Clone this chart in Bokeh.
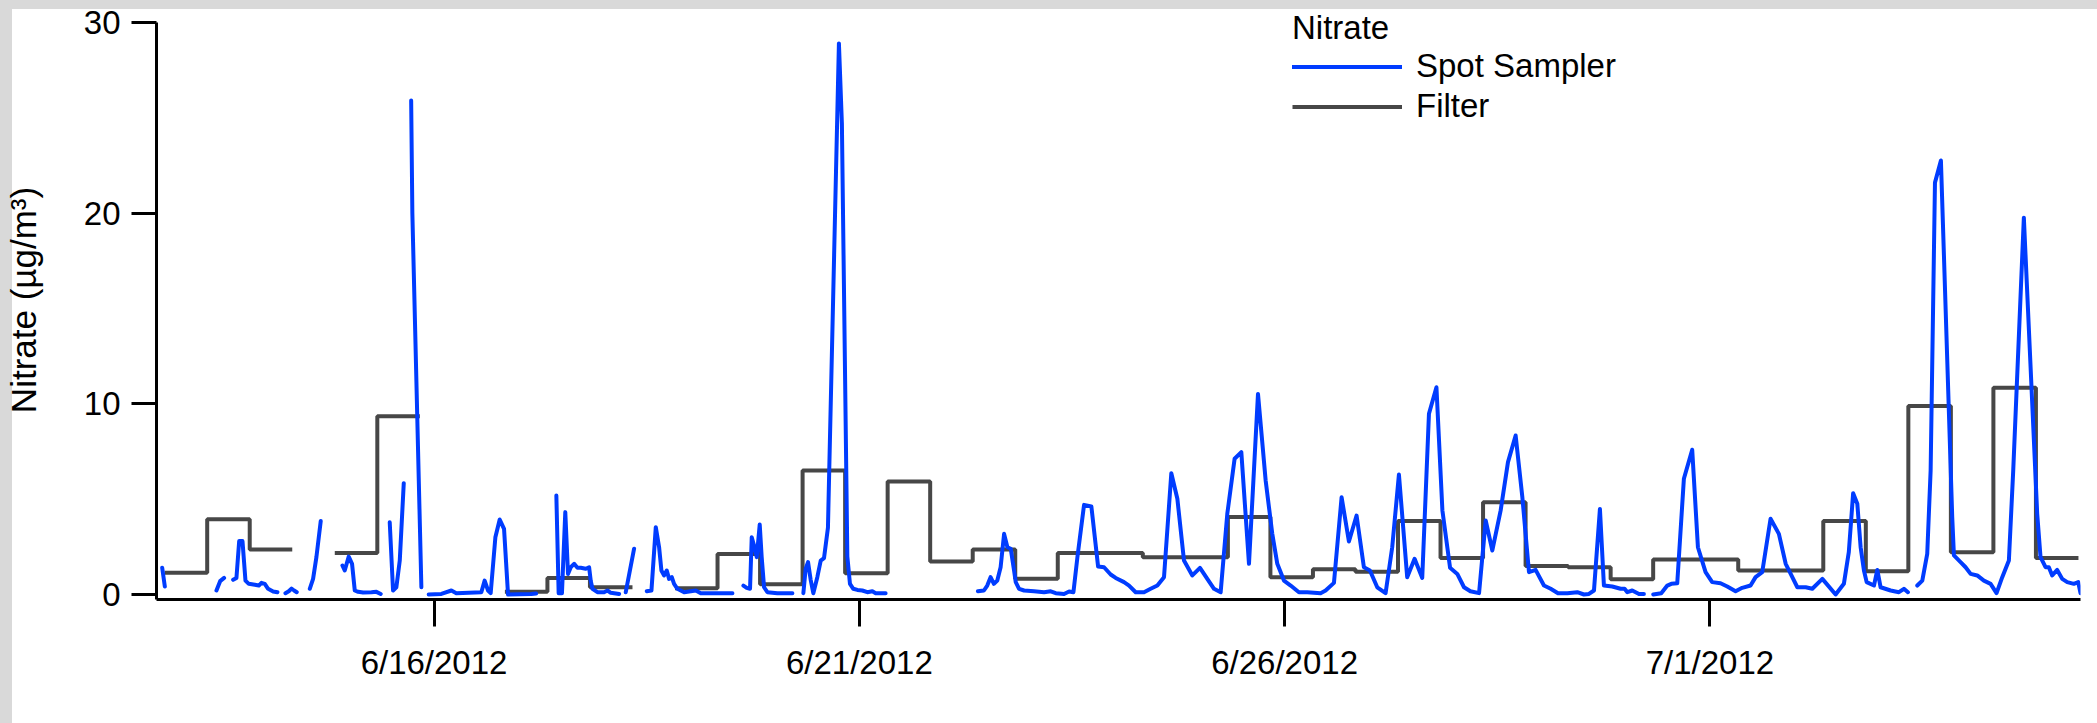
import math
from bokeh.plotting import figure
from bokeh.models import (ColumnDataSource, FixedTicker, Legend, LegendItem, Range1d)
from bokeh.embed import file_html
from bokeh.resources import INLINE

nan = float("nan")

# x values are days of June 2012 (31 = 7/1/2012); NaN marks gaps in the record
spot_day = [
    12.804, 12.835, nan,
    13.442, 13.485, 13.532, nan,
    13.638, 13.677, 13.709, 13.748, 13.783, 13.822, 13.893, 13.940, 13.971, 14.010, 14.049, 14.108, 14.159, nan,
    14.253, 14.292, 14.324, 14.355, 14.386, nan,
    14.539, 14.578, 14.617, 14.668, nan,
    14.923, 14.950, 14.997, 15.036, 15.068, 15.107, 15.166, 15.264, 15.322, 15.373, nan,
    15.479, 15.518, 15.557, 15.597, 15.644, nan,
    15.731, 15.745, 15.851, nan,
    15.937, 16.086, 16.204, 16.262, 16.556, 16.595, 16.635, 16.666, 16.721, 16.772, 16.823, 16.870, 17.144, 17.200, nan,
    17.438, 17.465, 17.504, 17.543, 17.575, 17.608, 17.647, 17.686, 17.725, 17.784, 17.823, 17.843, 17.863, 17.921, 17.999, 18.039, 18.078, 18.176, nan,
    18.254, 18.352, nan,
    18.501, 18.556, 18.607, 18.646, 18.673, 18.705, 18.736, 18.763, 18.795, 18.822, 18.861, 18.940, 19.077, 19.136, 19.253, 19.371, 19.508, nan,
    19.637, 19.676, 19.715, 19.735, 19.762, 19.794, 19.829, 19.852, 19.880, 19.919, 20.036, 20.213, nan,
    20.342, 20.369, 20.397, 20.428, 20.459, 20.506, 20.546, 20.585, 20.631, 20.760, 20.795, 20.859, 20.890, 20.929, 20.977, 21.035, 21.094, 21.153, 21.192, 21.309, nan,
    22.394, 22.465, 22.504, 22.543, 22.582, 22.622, 22.661, 22.702, 22.741, 22.780, 22.819, 22.839, 22.878, 22.937, 23.054, 23.172, 23.250, 23.309, 23.407, 23.466,
    23.517, 23.564, 23.642, 23.728, 23.807, 23.877, 23.955, 24.014, 24.112, 24.171, 24.249, 24.347, 24.425, 24.504, 24.582, 24.668, 24.739, 24.817, 24.915, 25.005,
    25.091, 25.170, 25.248, 25.326, 25.412, 25.491, 25.581, 25.687, 25.777, 25.855, 25.914, 25.992, 26.071, 26.168, 26.266, 26.423, 26.482, 26.580, 26.670, 26.756,
    26.846, 26.932, 27.003, 27.089, 27.187, 27.265, 27.344, 27.441, 27.528, 27.618, 27.697, 27.785, 27.855, 27.945, 28.030, 28.109, 28.184, 28.286, 28.364, 28.442,
    28.540, 28.626, 28.716, 28.795, 28.873, 28.951, 29.049, 29.128, 29.214, 29.324, 29.441, 29.519, 29.578, 29.637, 29.707, 29.754, 29.852, 29.950, 29.997, 30.029,
    30.087, 30.127, 30.166, 30.224, nan,
    30.334, 30.428, 30.499, 30.546, 30.616, 30.694, 30.792, 30.859, 30.949, 31.027, 31.125, 31.204, 31.302, 31.380, 31.478, 31.537, 31.615, 31.713, 31.811, 31.891,
    31.950, 32.028, 32.126, 32.204, 32.322, 32.478, 32.575, 32.633, 32.684, 32.733, 32.772, 32.811, 32.843, 32.929, 32.968, 33.007, 33.125, 33.222, 33.281, 33.328, nan,
    33.438, 33.497, 33.555, 33.595, 33.646, 33.716, 33.849, 33.869, 33.947, 34.006, 34.065, 34.143, 34.221, 34.300, 34.370, 34.437, 34.515, 34.566, 34.691, 34.848,
    34.887, 34.946, 34.985, 35.024, 35.083, 35.142, 35.201, 35.279, 35.330, 35.357,
]
spot_value = [
    1.40, 0.42, nan,
    0.21, 0.70, 0.87, nan,
    0.77, 0.87, 2.80, 2.80, 0.73, 0.56, 0.51, 0.47, 0.61, 0.56, 0.30, 0.16, 0.12, nan,
    0.07, 0.17, 0.31, 0.21, 0.12, nan,
    0.30, 0.82, 1.96, 3.85, nan,
    1.52, 1.26, 1.99, 1.61, 0.21, 0.14, 0.10, 0.12, 0.14, 0.03, nan,
    3.79, 0.21, 0.38, 1.78, 5.84, nan,
    25.9, 20.0, 0.38, nan,
    0.00, 0.03, 0.21, 0.07, 0.12, 0.73, 0.21, 0.07, 3.00, 3.93, 3.44, 0.00, 0.03, 0.05, nan,
    5.19, 0.07, 0.07, 4.32, 1.08, 1.43, 1.61, 1.40, 1.40, 1.35, 1.43, 0.70, 0.30, 0.12, 0.12, 0.21, 0.09, 0.03, nan,
    0.12, 2.40, nan,
    0.17, 0.21, 3.53, 2.48, 1.26, 1.00, 1.26, 0.82, 0.91, 0.56, 0.30, 0.12, 0.21, 0.07, 0.07, 0.07, 0.07, nan,
    0.47, 0.35, 0.30, 3.00, 2.57, 1.96, 3.67, 1.96, 0.38, 0.12, 0.07, 0.07, nan,
    0.07, 1.35, 1.70, 0.77, 0.07, 0.91, 1.78, 1.91, 3.50, 28.9, 24.7, 2.00, 0.56, 0.30, 0.24, 0.21, 0.12, 0.17, 0.07, 0.07, nan,
    0.17, 0.21, 0.47, 0.91, 0.56, 0.73, 1.43, 3.18, 2.48, 2.40, 1.26, 0.65, 0.30, 0.21, 0.17, 0.12, 0.17, 0.07, 0.03, 0.16,
    0.12, 1.96, 4.70, 4.62, 1.47, 1.43, 1.05, 0.87, 0.65, 0.47, 0.12, 0.12, 0.30, 0.47, 0.91, 6.36, 5.02, 1.78, 1.00, 1.40,
    0.82, 0.30, 0.12, 4.23, 7.12, 7.47, 1.61, 10.52, 5.98, 3.18, 1.61, 0.73, 0.47, 0.12, 0.12, 0.07, 0.21, 0.61, 5.10, 2.78,
    4.14, 1.43, 1.26, 0.38, 0.07, 2.48, 6.29, 0.91, 1.87, 0.87, 9.48, 10.87, 4.41, 1.40, 1.08, 0.38, 0.17, 0.07, 3.88, 2.31,
    4.41, 6.94, 8.34, 5.10, 1.17, 1.29, 0.47, 0.30, 0.07, 0.07, 0.12, 0.00, 0.03, 0.21, 4.49, 0.47, 0.42, 0.30, 0.30, 0.12,
    0.21, 0.12, 0.03, 0.03, nan,
    0.00, 0.07, 0.47, 0.56, 0.59, 6.07, 7.59, 2.48, 1.17, 0.65, 0.59, 0.42, 0.17, 0.35, 0.47, 0.91, 1.17, 3.97, 3.18, 1.61,
    1.08, 0.38, 0.38, 0.30, 0.82, 0.00, 0.56, 2.22, 5.31, 4.76, 2.48, 1.26, 0.65, 0.47, 1.29, 0.38, 0.21, 0.12, 0.30, 0.12, nan,
    0.47, 0.73, 2.13, 6.50, 21.6, 22.76, 4.05, 2.05, 1.70, 1.43, 1.08, 1.00, 0.73, 0.56, 0.07, 0.91, 1.78, 6.50, 19.76, 4.23,
    1.96, 1.43, 1.43, 1.00, 1.29, 0.82, 0.65, 0.56, 0.65, 0.07,
]

# 12-hour filter samples: start day of each block and its concentration (NaN = no sample)
filter_start = [
    12.833, 13.333, 13.833, 14.333, 14.833, 15.333, 15.833, 16.333, 16.833, 17.333,
    17.833, 18.333, 18.833, 19.333, 19.833, 20.333, 20.833, 21.333, 21.833, 22.333,
    22.833, 23.333, 23.833, 24.333, 24.833, 25.333, 25.833, 26.333, 26.833, 27.333,
    27.833, 28.333, 28.833, 29.333, 29.833, 30.333, 30.833, 31.333, 31.833, 32.333,
    32.833, 33.333, 33.833, 34.333, 34.833,
]
filter_value = [
    1.14, 3.95, 2.36, nan, 2.17, 9.35, nan, nan, 0.14, 0.87,
    0.38, nan, 0.33, 2.12, 0.54, 6.50, 1.12, 5.93, 1.73, 2.36,
    0.82, 2.17, 2.17, 1.96, 1.96, 4.06, 0.91, 1.33, 1.19, 3.86,
    1.91, 4.84, 1.50, 1.43, 0.80, 1.84, 1.84, 1.26, 1.26, 3.86,
    1.22, 9.88, 2.22, 10.84, 1.92,
]
filter_end = 35.333

tick_days = [16, 21, 26, 31]
tick_labels = ["6/16/2012", "6/21/2012", "6/26/2012", "7/1/2012"]
y_ticks = [0, 10, 20, 30]

# build the step path of the filter series from its blocks
fx, fy = [], []
for i, v in enumerate(filter_value):
    t0 = filter_start[i]
    t1 = filter_start[i + 1] if i + 1 < len(filter_start) else filter_end
    if math.isnan(v):
        if fx and not math.isnan(fx[-1]):
            fx.append(nan)
            fy.append(nan)
        continue
    fx += [t0, t1]
    fy += [v, v]

spot_src = ColumnDataSource(dict(x=spot_day, y=spot_value))
filt_src = ColumnDataSource(dict(x=fx, y=fy))

FONT = "Liberation Sans"
GRAY = "#d9d9d9"

p = figure(width=2097, height=723, title=None,
           x_range=Range1d(12.737, 35.357), y_range=Range1d(-0.262, 31.15),
           output_backend="svg", toolbar_location=None,
           min_border_left=155, min_border_right=17,
           min_border_top=0, min_border_bottom=124)
# transparent canvas; the page element paints white with grey strips on top and left
p.border_fill_alpha = 0
p.background_fill_alpha = 0
p.styles = {
    "background-image": (f"linear-gradient(to right, {GRAY} 12px, rgba(0,0,0,0) 12px), "
                         f"linear-gradient(to bottom, {GRAY} 9px, #ffffff 9px)"),
}
p.outline_line_color = None
p.xgrid.visible = False
p.ygrid.visible = False

r_filter = p.line("x", "y", source=filt_src, line_color="#474747", line_width=4)
r_spot = p.line("x", "y", source=spot_src, line_color="#003CFF", line_width=4,
                line_join="round", line_cap="round")

for ax in (p.xaxis[0], p.yaxis[0]):
    ax.axis_line_width = 3
    ax.axis_line_color = "black"
    ax.major_tick_line_width = 3
    ax.major_tick_line_color = "black"
    ax.major_tick_in = 0
    ax.minor_tick_out = 0
    ax.minor_tick_in = 0
    ax.major_label_text_font = FONT
    ax.major_label_text_font_size = "33px"
    ax.major_label_text_color = "black"

p.xaxis.ticker = FixedTicker(ticks=tick_days, minor_ticks=[])
p.xaxis.major_label_overrides = {d: lab for d, lab in zip(tick_days, tick_labels)}
p.xaxis.major_tick_out = 27
p.xaxis.major_label_standoff = 17

p.yaxis.ticker = FixedTicker(ticks=y_ticks, minor_ticks=[])
p.yaxis.bounds = (-0.262, 30)
p.yaxis.major_tick_out = 25
p.yaxis.major_label_standoff = 11
p.yaxis.axis_label = "Nitrate (µg/m³)"
p.yaxis.axis_label_text_font = FONT
p.yaxis.axis_label_text_font_size = "35px"
p.yaxis.axis_label_text_font_style = "normal"
p.yaxis.axis_label_text_color = "black"
p.yaxis.axis_label_standoff = 38

legend = Legend(
    items=[LegendItem(label="Spot Sampler", renderers=[r_spot]),
           LegendItem(label="Filter", renderers=[r_filter])],
    title="Nitrate", location=(1136, 474), orientation="vertical",
    padding=0, margin=0, spacing=2,
    glyph_width=110, glyph_height=37, label_height=37,
    label_standoff=14, title_standoff=-2,
    label_text_font=FONT, label_text_font_size="33px", label_text_color="black",
    title_text_font=FONT, title_text_font_size="33px", title_text_font_style="normal",
    title_text_color="black",
    border_line_color=None, background_fill_alpha=0,
)
p.add_layout(legend)

with open("out.html", "w") as f:
    f.write(file_html(p, INLINE))
